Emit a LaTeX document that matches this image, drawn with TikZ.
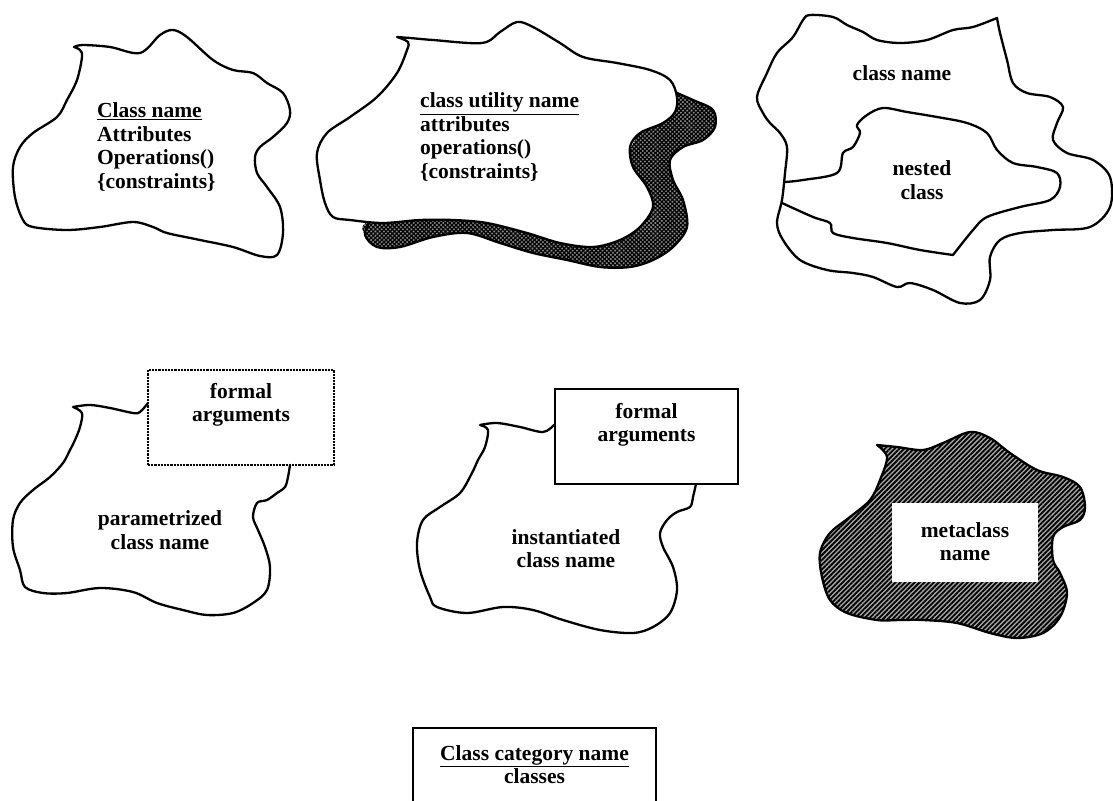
\documentclass[tikz,border=0pt]{standalone}
\usepackage{fontspec}
\setmainfont{Liberation Serif}
\usetikzlibrary{patterns.meta}
\tikzset{
  outline/.style={line width=2.3pt, line join=round, line cap=round},
  lbl/.style={font=\bfseries\fontsize{21.5}{23.5}\selectfont, inner sep=0pt},
  argbox/.style={rectangle, line width=2.2pt},
  blob/.style={smooth, tension=0.55},
}
\begin{document}
\begin{tikzpicture}[x=1pt, y=-1pt]
\useasboundingbox (0,0) rectangle (1113,800);
\clip (0,0) rectangle (1113,800);

% --- class
\draw[outline, fill=white] plot[blob] coordinates {(74,47) (83,45) (110,47) (140,53) (160,35) (173,30) (187,37) (213,60) (233,70) (253,73) (267,83) (283,93) (290,110) (287,123) (273,137) (260,147) (255,157) (257,173) (267,187) (280,207) (283,233) (277,255) (260,256) (233,247) (200,240) (167,233) (153,227) (133,222) (100,227) (67,230) (33,227) (23,220) (15,197) (13,167) (20,147) (33,133) (57,117) (67,100) (77,80) (82,57) (80,50) (74,47)} -- cycle;
\node[lbl, align=left, anchor=west] (cls) at (97,147) {\underline{Class name}\\Attributes\\Operations()\\\{constraints\}};

% --- class utility: shadow first, then the white cloud over it
\path[preaction={fill=black!45}, pattern={Hatch[angle=45,distance=3pt,line width=1.2pt]}, pattern color=black]
  plot[blob] coordinates {(670,90) (693,100) (713,110) (715,127) (703,140) (683,147) (670,160) (673,180) (683,200) (687,227) (673,247) (653,260) (630,267) (600,267) (567,260) (533,253) (500,243) (467,233) (433,237) (400,247) (377,247) (365,235) (370,221) (450,200) (600,180) (650,110) (670,90)} -- cycle;
\draw[outline] plot[blob] coordinates {(670,90) (693,100) (713,110) (715,127) (703,140) (683,147) (670,160) (673,180) (683,200) (687,227) (673,247) (653,260) (630,267) (600,267) (567,260) (533,253) (500,243) (467,233) (433,237) (400,247) (377,247) (365,235) (370,221)};
\draw[outline, fill=white] plot[blob] coordinates {(397,37) (410,38) (433,40) (482,43) (500,32) (517,22) (533,27) (560,43) (583,57) (617,63) (650,70) (670,80) (677,97) (675,112) (663,123) (640,133) (630,147) (633,167) (647,187) (653,207) (640,227) (620,240) (593,247) (560,243) (527,233) (487,223) (453,220) (420,220) (383,223) (350,220) (333,217) (325,203) (320,180) (317,153) (327,133) (350,117) (377,97) (397,73) (407,50) (408,42) (397,37)} -- cycle;
\node[lbl, align=left, anchor=west] (util) at (420,137) {\underline{class utility name}\\attributes\\operations()\\\{constraints\}};

% --- nested class
\draw[outline, fill=white] plot[blob] coordinates {(997,18) (1000,33) (1007,60) (1013,83) (1027,93) (1050,97) (1063,107) (1057,123) (1053,140) (1067,153) (1093,160) (1110,177) (1110,207) (1090,227) (1053,230) (1020,233) (1000,240) (990,257) (990,280) (980,300) (960,303) (933,290) (910,283) (897,287) (873,277) (853,273) (827,270) (800,260) (783,240) (777,223) (782,200) (785,173) (787,147) (780,133) (770,123) (763,113) (757,97) (767,73) (777,53) (793,37) (803,20) (810,15) (833,17) (847,25) (863,32) (877,40) (900,43) (927,40) (953,30) (973,27) (997,18)} -- cycle;
\draw[outline] plot[blob] coordinates {(785,182) (803,180) (837,173) (843,153) (853,147) (860,133) (857,125) (867,115) (883,108) (907,112) (937,117) (967,123) (987,133) (997,150) (1013,163) (1037,167) (1057,173) (1060,187) (1050,200) (1020,207) (987,217) (973,230) (953,255)}
  plot[blob] coordinates {(953,255) (920,250) (887,243) (853,238) (833,233) (830,223) (813,217) (782,203)};
\node[lbl] (outer) at (902,73) {class name};
\node[lbl, align=center] (nested) at (922,180) {nested\\class};

% --- parametrized class
\node[argbox, densely dotted, draw, minimum width=186pt, minimum height=95pt] (fa1) at (241,417.5) {};
\node[lbl, align=center] (fa1t) at (241,405) {formal\\arguments};
\draw[outline] plot[blob] coordinates {(148,403) (140,412) (133,413) (110,408) (90,405) (73,407)}
  plot[blob] coordinates {(73,407) (82,413) (80,427) (75,440) (70,450) (63,463) (50,477) (33,490) (20,503) (13,520) (13,547) (20,570) (25,587) (43,593) (67,593) (100,588) (133,592) (157,603) (183,610) (207,615) (233,613) (253,603) (267,590) (270,567) (265,547) (258,530) (253,517) (257,503) (267,500) (277,493) (285,487) (288,477) (290,465)};
\node[lbl, align=center] (param) at (160,530) {parametrized\\class name};

% --- instantiated class
\node[argbox, draw, minimum width=183pt, minimum height=95pt] (fa2) at (646.5,436.5) {};
\node[lbl, align=center] (fa2t) at (646.5,425) {formal\\arguments};
\draw[outline] plot[blob] coordinates {(554,425) (543,432) (520,427) (497,423) (480,425)}
  plot[blob] coordinates {(480,425) (488,430) (485,447) (478,460) (472,473) (460,493) (440,507) (423,520) (417,543) (420,570) (430,597) (437,607) (467,613) (503,607) (533,610) (563,620) (600,630) (633,633) (653,627) (670,613) (677,590) (673,567) (663,547) (660,533) (667,520) (677,512) (690,507) (693,497) (696,484)};
\node[lbl, align=center] (inst) at (566,548.5) {instantiated\\class name};

% --- metaclass
\draw[outline, preaction={fill=black!35}, pattern={Lines[angle=45,distance=3.4pt,line width=1.8pt]}, pattern color=black]
  plot[blob] coordinates {(877,445) (897,447) (923,450) (943,443) (970,432) (990,438) (1010,453) (1037,470) (1063,477) (1080,487) (1085,507) (1080,520) (1063,527) (1053,537) (1053,560) (1060,573) (1067,593) (1060,617) (1043,633) (1017,638) (990,633) (957,623) (923,620) (900,620) (877,620) (847,613) (830,600) (822,577) (820,553) (830,533) (850,517) (870,500) (880,480) (887,457) (877,445)} -- cycle;
\node[fill=white, minimum width=146pt, minimum height=79pt] (meta) at (965,542.5) {};
\node[lbl, align=center] (metat) at (965,541.5) {metaclass\\name};

% --- class category
\node[argbox, draw, minimum width=243pt, minimum height=110pt] (cat) at (534.5,783) {};
\node[lbl, align=center] (catt) at (534.5,764.5) {\underline{Class category name}\\classes};
\end{tikzpicture}
\end{document}
